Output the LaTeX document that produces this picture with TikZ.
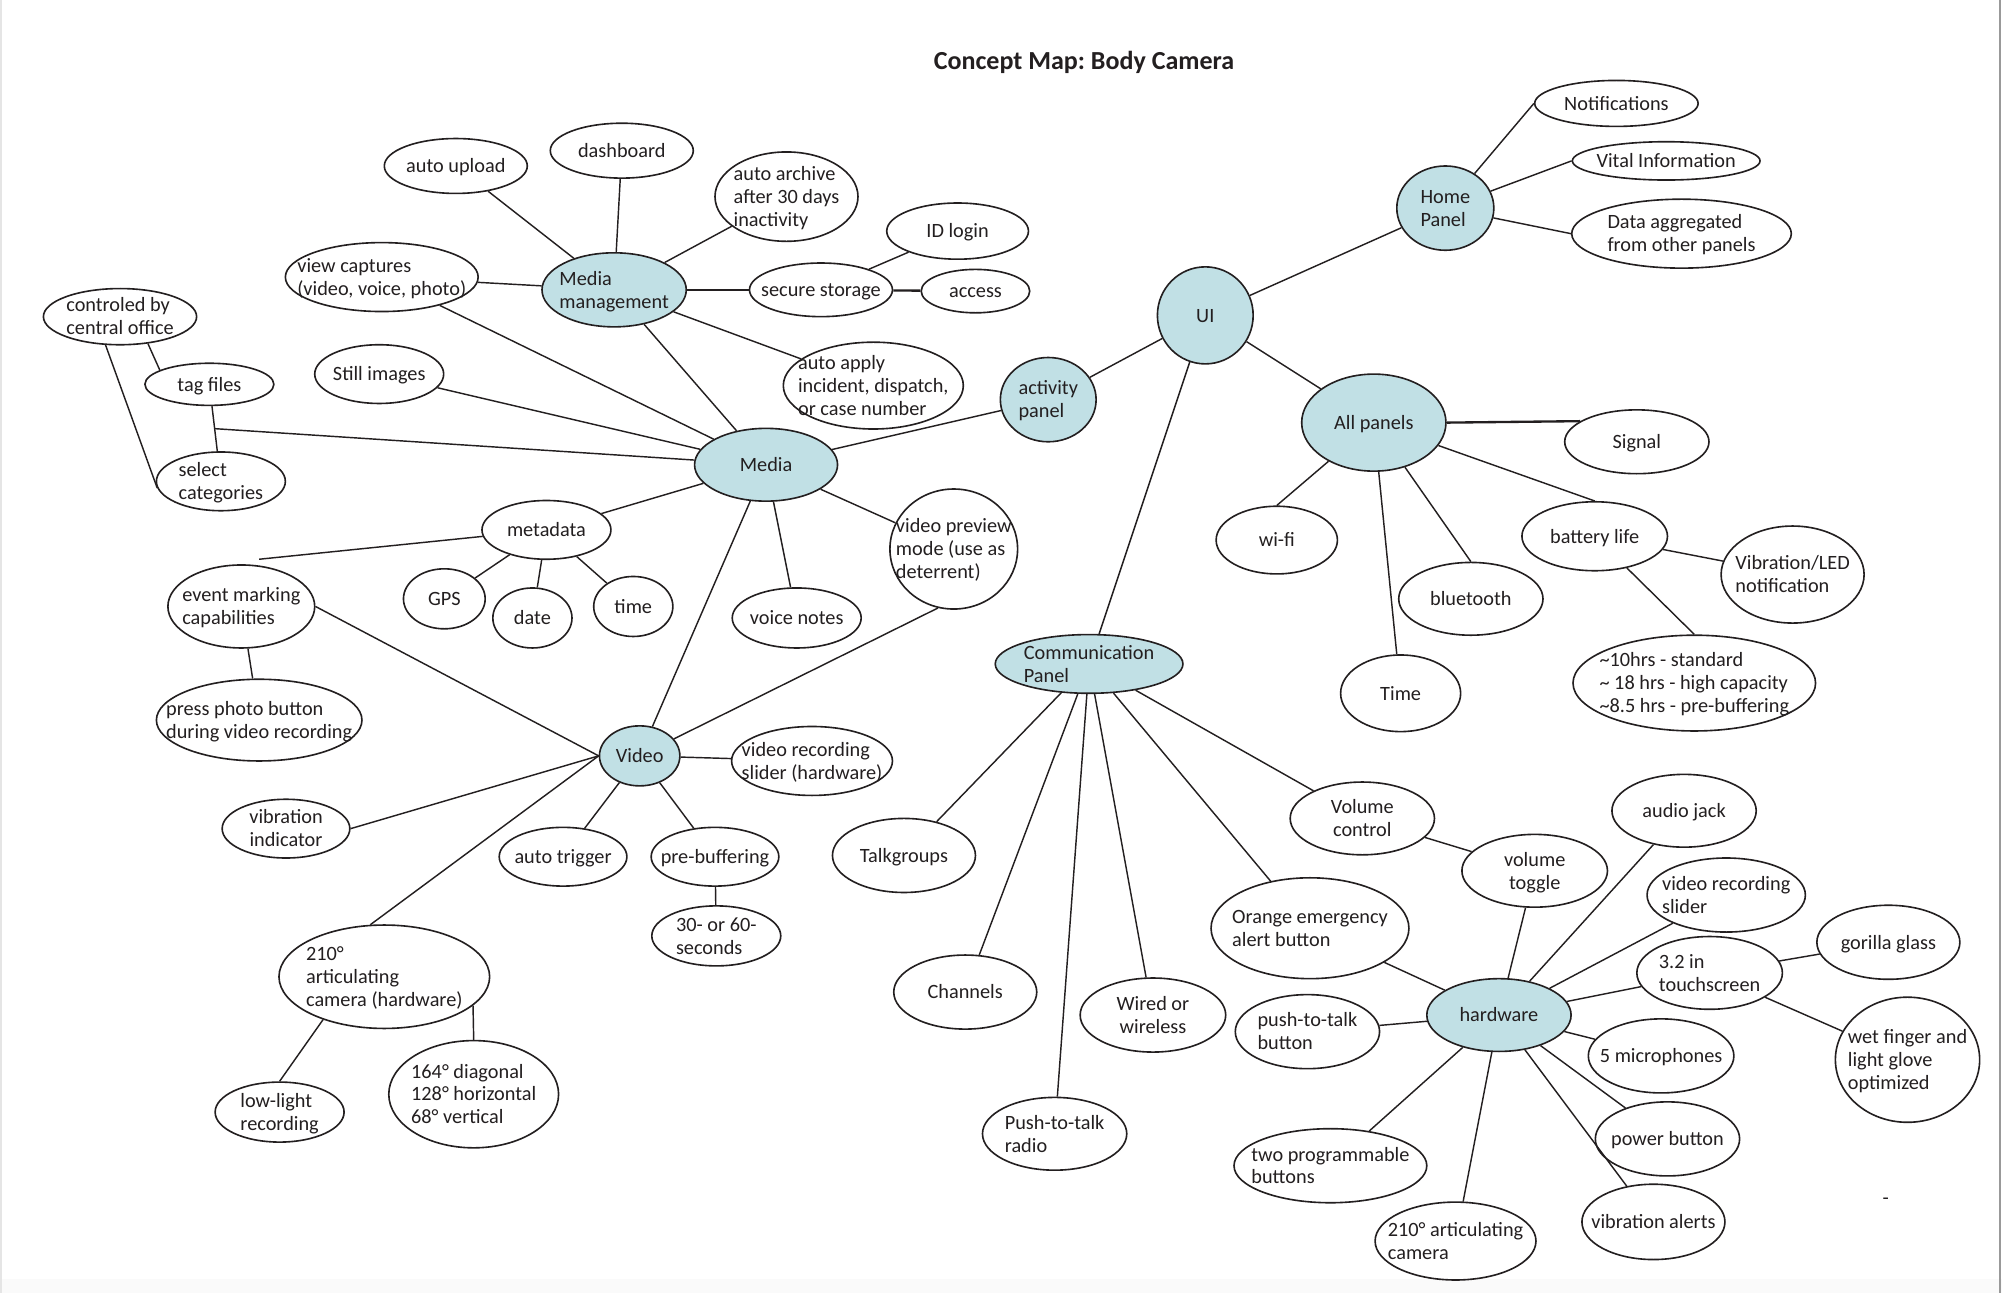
\documentclass[tikz,border=0pt]{standalone}
\usepackage{amsmath}
\usepackage{fontspec}
\setmainfont{Carlito}
\usepackage{xcolor}
\usepackage{tikz}
\usetikzlibrary{calc, shapes.geometric}
\frenchspacing

\definecolor{hubblue}{RGB}{193,224,229}
\definecolor{ink}{RGB}{35,31,32}
\newcommand{\lbl}[2][l]{\makebox[0pt]{\smash{\raisebox{-0.35em}{\begin{tabular}{@{}#1@{}}#2\end{tabular}}}}}

\tikzset{
  concept/.style={draw=ink, ellipse, inner sep=0pt, line width=0.9pt, fill=white, text=ink,
                  font=\fontsize{11.3}{12.8}\selectfont},
  hub/.style={concept, fill=hubblue},
  sz/.style 2 args={minimum width=#1*0.025cm, minimum height=#2*0.025cm},
  link/.style={draw=ink, line width=0.8pt},
}

\begin{document}
\begin{tikzpicture}[x=0.025cm, y=-0.025cm]
    % 0. Page
    \useasboundingbox (0,0) rectangle (1568,1013);
    \fill[white] (0,0) rectangle (1568,1013);
    \fill[black!2] (0,1002) rectangle (1568,1013);
    \fill[black!10] (0,0) rectangle (1.6,1013);
    \draw[black!40, line width=0.9pt] (1566.5,0) -- (1566.5,1013);
    \node[text=ink, font=\fontsize{14.5}{16}\selectfont\bfseries] (title) at (849,49) {Concept Map: Body Camera};

    % 1. Main concepts
    \node[hub, sz={113}{58}] (mm) at (481,227) {\lbl{Media\\management}};
    \node[hub, sz={112}{57}] (media) at (600,364) {\lbl{Media}};
    \node[hub, sz={63}{47}] (video) at (501,592) {\lbl{Video}};
    \node[hub, sz={75}{66}] (activity) at (821,313) {\lbl{activity\\panel}};
    \node[hub, sz={75}{76}] (ui) at (944,247) {\lbl{UI}};
    \node[hub, sz={76}{66}] (home) at (1132,163) {\lbl{Home\\Panel}};
    \node[hub, sz={113}{76}] (allp) at (1076,331) {\lbl{All panels}};
    \node[hub, sz={147}{46}] (comm) at (853,520) {\lbl{Communication\\Panel}};
    \node[hub, sz={113}{57}] (hw) at (1174,795) {\lbl{hardware}};

    % 2. Media management
    \node[concept, sz={112}{43}] (upload) at (357,130) {\lbl{auto upload}};
    \node[concept, sz={112}{43}] (dashb) at (487,118) {\lbl{dashboard}};
    \node[concept, sz={112}{70}] (archive) at (616,154) {\lbl{auto archive\\after 30 days\\inactivity}};
    \node[concept, sz={151}{54}] (view) at (299,217) {\lbl{view captures\\(video, voice, photo)}};
    \node[concept, sz={112}{42}] (storage) at (643,227) {\lbl{secure storage}};
    \node[concept, sz={111}{44}] (idlogin) at (750,181) {\lbl{ID login}};
    \node[concept, sz={85}{34}] (access) at (764,228) {\lbl{access}};
    \node[concept, sz={141}{68}] (apply) at (684,302) {\lbl{auto apply\\incident, dispatch,\\or case number}};

    % 3. Media
    \node[concept, sz={120}{44}] (central) at (94,248) {\lbl{controled by\\central office}};
    \node[concept, sz={101}{33}] (tag) at (164,301) {\lbl{tag files}};
    \node[concept, sz={101}{46}] (select) at (173,377) {\lbl{select\\categories}};
    \node[concept, sz={101}{46}] (still) at (297,293) {\lbl{Still images}};
    \node[concept, sz={101}{46}] (meta) at (428,415) {\lbl{metadata}};
    \node[concept, sz={64}{47}] (gps) at (348,469) {\lbl{GPS}};
    \node[concept, sz={62}{47}] (date) at (417,484) {\lbl{date}};
    \node[concept, sz={62}{47}] (time) at (496,475) {\lbl{time}};
    \node[concept, sz={101}{47}] (voice) at (624,484) {\lbl{voice notes}};
    \node[concept, sz={100}{94}] (preview) at (747,430) {\lbl{video preview\\mode (use as\\deterrent)}};
    \coordinate (tagjoin) at ($(tag.south)!0.5!(select.north)$);
    \coordinate (metaend) at (203,438);

    % 4. Video
    \node[concept, sz={115}{65}] (event) at (189,475) {\lbl{event marking\\capabilities}};
    \node[concept, sz={161}{64}] (photo) at (203,564) {\lbl{press photo button\\during video recording}};
    \node[concept, sz={126}{54}] (slider) at (636,596) {\lbl{video recording\\slider (hardware)}};
    \node[concept, sz={100}{46}] (vibind) at (224,649) {\lbl[c]{vibration\\indicator}};
    \node[concept, sz={100}{46}] (trigger) at (441,671) {\lbl{auto trigger}};
    \node[concept, sz={100}{46}] (prebuf) at (560,671) {\lbl{pre-buffering}};
    \node[concept, sz={101}{47}] (secs) at (561,733) {\lbl{30- or 60-\\seconds}};
    \node[concept, sz={165}{81}] (cam) at (301,765) {\lbl{210°\\articulating\\camera (hardware)}};
    \node[concept, sz={101}{47}] (lowlight) at (219,871) {\lbl{low-light\\recording}};
    \node[concept, sz={133}{84}] (fov) at (371,857) {\lbl{164° diagonal\\128° horizontal\\68° vertical}};

    % 5. Home panel and all panels
    \node[concept, sz={128}{36}] (notif) at (1266,81) {\lbl{Notifications}};
    \node[concept, sz={147}{30}] (vital) at (1305,126) {\lbl{Vital Information}};
    \node[concept, sz={172}{54}] (data) at (1317,183) {\lbl{Data aggregated\\from other panels}};
    \node[concept, sz={113}{50}] (signal) at (1282,346) {\lbl{Signal}};
    \node[concept, sz={95}{53}] (wifi) at (1000,423) {\lbl{wi-fi}};
    \node[concept, sz={114}{54}] (battery) at (1249,420) {\lbl{battery life}};
    \node[concept, sz={112}{76}] (vled) at (1404,450) {\lbl{Vibration/LED\\notification}};
    \node[concept, sz={113}{57}] (bluetooth) at (1152,469) {\lbl{bluetooth}};
    \node[concept, sz={94}{60}] (timep) at (1097,543) {\lbl{Time}};
    \node[concept, sz={190}{75}] (hours) at (1327,535) {\lbl{\textasciitilde10hrs - standard\\\textasciitilde{} 18 hrs - high capacity\\\textasciitilde8.5 hrs - pre-buffering}};

    % 6. Communication panel
    \node[concept, sz={112}{58}] (talk) at (708,670) {\lbl{Talkgroups}};
    \node[concept, sz={112}{58}] (channels) at (756,777) {\lbl{Channels}};
    \node[concept, sz={113}{57}] (radio) at (826,888) {\lbl{Push-to-talk\\radio}};
    \node[concept, sz={114}{58}] (wired) at (903,795) {\lbl[c]{Wired or\\wireless}};
    \node[concept, sz={155}{79}] (orange) at (1026,727) {\lbl{Orange emergency\\alert button}};
    \node[concept, sz={113}{57}] (volume) at (1067,641) {\lbl[c]{Volume\\control}};
    \node[concept, sz={114}{57}] (vtoggle) at (1202,682) {\lbl[c]{volume\\toggle}};

    % 7. Hardware
    \node[concept, sz={113}{58}] (ptt) at (1024,808) {\lbl{push-to-talk\\button}};
    \node[concept, sz={113}{57}] (audio) at (1319,635) {\lbl{audio jack}};
    \node[concept, sz={124}{58}] (hwslider) at (1352,701) {\lbl{video recording\\slider}};
    \node[concept, sz={114}{57}] (touch) at (1339,762) {\lbl{3.2 in\\touchscreen}};
    \node[concept, sz={112}{58}] (gorilla) at (1479,738) {\lbl{gorilla glass}};
    \node[concept, sz={113}{98}] (wet) at (1494,830) {\lbl{wet finger and\\light glove\\optimized}};
    \node[concept, sz={114}{58}] (mics) at (1301,827) {\lbl{5 microphones}};
    \node[concept, sz={113}{58}] (power) at (1306,892) {\lbl{power button}};
    \node[concept, sz={151}{58}] (prog) at (1042,913) {\lbl{two programmable\\buttons}};
    \node[concept, sz={112}{59}] (valerts) at (1295,957) {\lbl{vibration alerts}};
    \node[concept, sz={126}{61}] (hwcam) at (1140,972) {\lbl{210° articulating\\camera}};
    \node[text=ink, font=\fontsize{11.3}{12.8}\selectfont] (stray) at (1477,941) {-};

    % 8. Links
    \foreach \a/\b in {mm/upload, mm/dashb, mm/archive, mm/view, mm/storage, storage/idlogin,
        mm/apply, mm/media, media/view, media/still, media/tagjoin, tag/select,
        media/activity, activity/ui, ui/home, home/notif.west, home/vital.west, home/data.west,
        ui/allp, ui/comm, allp/wifi.north, allp/timep, allp/bluetooth.north, allp/battery.north,
        battery/vled, battery/hours.north, media/meta, meta/metaend, meta/gps, meta/date, meta/time,
        media/voice, media/video, preview.-105/video, event.east/video.west, event/photo,
        video/slider, vibind.east/video.west, video.west/cam.105, video/trigger, video/prebuf,
        prebuf/secs, cam.-145/lowlight.north, cam.-18/fov.north,
        central.-44/tag.164, central.-117/select.-174, media/preview,
        comm/talk, comm/channels, comm/radio, comm/wired, comm/orange, comm/volume,
        volume/vtoggle, vtoggle/hw, orange/hw, ptt/hw, hw/audio, hw/hwslider, hw/touch,
        touch/gorilla, touch/wet, hw/mics, hw/power, hw/valerts, hw/hwcam, hw/prog} {
        \draw[link] (\a) -- (\b);
    }
    \draw[link, line width=1.3pt] (storage) -- (access);
    \draw[link, line width=1.3pt] (allp.east) -- (signal.160);
\end{tikzpicture}
\end{document}
